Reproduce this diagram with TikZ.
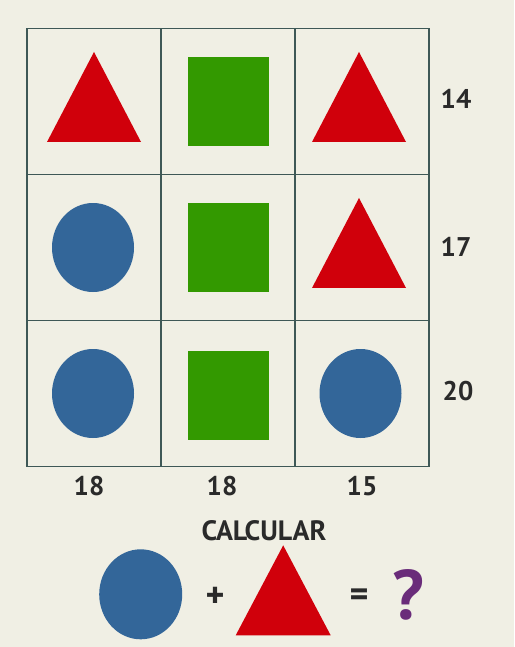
\documentclass[tikz,border=0pt]{standalone}
\usepackage{fontspec}
\setmainfont{PT Sans}
\usepackage{xcolor}
\usetikzlibrary{positioning,shapes.geometric}
\definecolor{paper}{HTML}{F0EFE4}
\definecolor{gridline}{HTML}{3E5856}
\definecolor{tomato}{HTML}{D0000B}
\definecolor{leaf}{HTML}{339900}
\definecolor{ocean}{HTML}{336699}
\definecolor{ink}{HTML}{2A2A2A}
\definecolor{plum}{HTML}{6A2C7A}
\tikzset{
  cell/.style={rectangle, draw=gridline, line width=1.3pt,
    minimum width=134pt, minimum height=146pt, inner sep=0pt, outer sep=0pt},
  tri/.style={isosceles triangle, isosceles triangle stretches,
    shape border rotate=90, fill=tomato, inner sep=0pt,
    minimum width=94pt, minimum height=90pt},
  sq/.style={rectangle, fill=leaf, minimum width=81pt, minimum height=89pt,
    inner sep=0pt},
  disc/.style={ellipse, fill=ocean, minimum width=82pt, minimum height=89pt,
    inner sep=0pt},
  num/.style={font=\fontsize{27}{27}\selectfont\bfseries, text=ink,
    inner sep=0pt},
}

\begin{document}
\begin{tikzpicture}[x=1pt, y=-1pt]
  \fill[paper] (0,0) rectangle (514,647);
  \useasboundingbox (0,0) rectangle (514,647);

  % grid
  \node[cell] (c11) at (94,101.5) {};
  \node[cell, right=0pt of c11] (c12) {};
  \node[cell, right=0pt of c12] (c13) {};
  \node[cell, below=0pt of c11] (c21) {};
  \node[cell, right=0pt of c21] (c22) {};
  \node[cell, right=0pt of c22] (c23) {};
  \node[cell, below=0pt of c21] (c31) {};
  \node[cell, right=0pt of c31] (c32) {};
  \node[cell, right=0pt of c32] (c33) {};

  % shapes
  \node[tri] (t11) at ([yshift=-12pt]c11) {};
  \node[sq] (s12) at (c12) {};
  \node[tri] (t13) at ([xshift=-3pt, yshift=-12pt]c13) {};
  \node[disc] (d21) at ([xshift=-1pt]c21) {};
  \node[sq] (s22) at (c22) {};
  \node[tri] (t23) at ([xshift=-3pt, yshift=-12pt]c23) {};
  \node[disc] (d31) at ([xshift=-1pt]c31) {};
  \node[sq] (s32) at ([yshift=-1.5pt]c32) {};
  \node[disc] (d33) at ([xshift=-1.5pt]c33) {};

  % sums
  \node[num] (r1) at (456,99) {14};
  \node[num] (r2) at (456,247) {17};
  \node[num] (r3) at (458,391) {20};
  \node[num] (b1) at (89,486) {18};
  \node[num] (b2) at (222,486) {18};
  \node[num] (b3) at (362,486) {15};

  % question
  \node[num, font=\fontsize{28}{28}\selectfont\bfseries] (ask) at (264,531) {CALCULAR};
  \node[disc, minimum width=83pt, minimum height=90pt] (d0) at (140.7,594.3) {};
  \node[num, font=\fontsize{36}{36}\selectfont\bfseries] (plus) at (215,597) {+};
  \node[tri, minimum width=95pt] (t0) at (283.2,606.7) {};
  \node[num, font=\fontsize{36}{36}\selectfont\bfseries] (eq) at (359,598) {=};
  \node[num, font=\fontsize{70}{70}\selectfont\bfseries, text=plum] (q) at (408,595) {?};
\end{tikzpicture}
\end{document}
